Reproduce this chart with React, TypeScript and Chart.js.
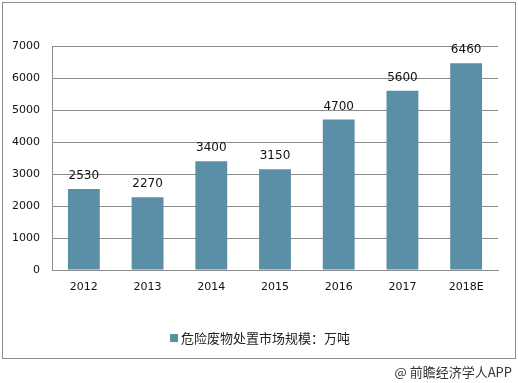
import React, { useEffect, useRef } from "react";
import { Chart, registerables } from "chart.js";

Chart.register(...registerables);

const categories = ["2012", "2013", "2014", "2015", "2016", "2017", "2018E"];
const values = [2530, 2270, 3400, 3150, 4700, 5600, 6460];
const yTicks = [0, 1000, 2000, 3000, 4000, 5000, 6000, 7000];
const legendLabel = "危险废物处置市场规模：万吨";
const sourceText = "@ 前瞻经济学人APP";

const BAR = "#5b8fa8";
const FONT = "'DejaVu Sans', 'Noto Sans CJK SC', sans-serif";

export default function App() {
  const ref = useRef<HTMLCanvasElement>(null);
  useEffect(() => {
    document.body.style.margin = "0";
    const extras = {
      id: "extras",
      afterDatasetsDraw(chart: any) {
        const ctx = chart.ctx;
        const meta = chart.getDatasetMeta(0);
        ctx.save();
        ctx.fillStyle = "#111";
        ctx.font = `12px ${FONT}`;
        ctx.textAlign = "center";
        ctx.textBaseline = "middle";
        meta.data.forEach((el: any, i: number) => {
          ctx.fillText(String(values[i]), el.x, el.y - 13);
        });
        ctx.restore();
      },
      afterDraw(chart: any) {
        const ctx = chart.ctx;
        ctx.save();
        ctx.strokeStyle = "#8c8c8c";
        ctx.lineWidth = 1;
        ctx.strokeRect(2.5, 2.5, 513, 356);
        // legend
        ctx.fillStyle = BAR;
        ctx.fillRect(170, 334, 8, 8);
        ctx.fillStyle = "#222";
        ctx.font = `13px 'Noto Sans CJK SC', sans-serif`;
        ctx.textAlign = "left";
        ctx.textBaseline = "middle";
        ctx.fillText(legendLabel, 181, 338);
        // source
        ctx.textAlign = "right";
        ctx.fillStyle = "#333";
        ctx.fillText(sourceText, 512, 372);
        ctx.restore();
      },
    };
    const chart = new Chart(ref.current!, {
      type: "bar",
      data: {
        labels: categories,
        datasets: [
          {
            label: legendLabel,
            data: values,
            backgroundColor: BAR,
            categoryPercentage: 1,
            barPercentage: 0.5,
          },
        ],
      },
      options: {
        animation: false,
        responsive: false,
        layout: { padding: { top: 46, right: 20, left: 0, bottom: 0 } },
        plugins: { legend: { display: false }, tooltip: { enabled: false } },
        scales: {
          x: {
            grid: { display: false, drawTicks: false },
            border: { color: "#8c8c8c" },
            ticks: { color: "#111", font: { size: 11, family: FONT }, padding: 11 },
            afterFit: (s: any) => {
              s.height = 113;
            },
          },
          y: {
            min: 0,
            max: 7000,
            afterBuildTicks: (s: any) => {
              s.ticks = yTicks.map((v) => ({ value: v }));
            },
            grid: { color: "#8c8c8c", drawTicks: false },
            border: { color: "#8c8c8c" },
            ticks: {
              color: "#111",
              font: { size: 11, family: FONT },
              padding: 12,
              callback: (v: any) => String(v),
            },
            afterFit: (s: any) => {
              s.width = 52;
            },
          },
        },
      },
      plugins: [extras],
    });
    return () => chart.destroy();
  }, []);
  return <canvas ref={ref} width={518} height={383} style={{ display: "block" }} />;
}
